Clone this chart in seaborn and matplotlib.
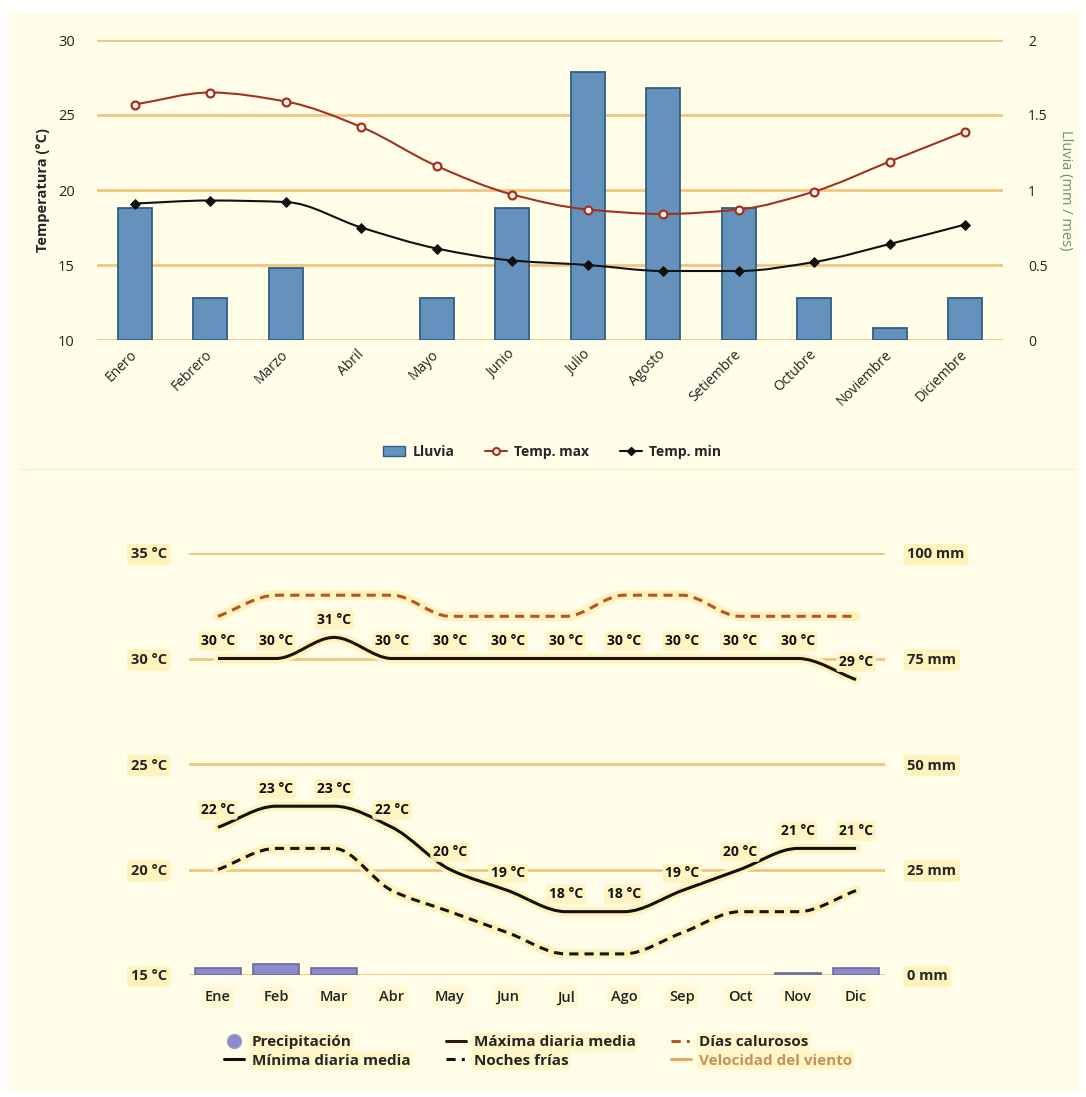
import numpy as np
import pandas as pd
import matplotlib
matplotlib.use("Agg")
import matplotlib.pyplot as plt
import seaborn as sns
from matplotlib.path import Path
from matplotlib.patches import PathPatch, Rectangle, Patch
from matplotlib.lines import Line2D

# ---------------- data ----------------
meses = ["Enero", "Febrero", "Marzo", "Abril", "Mayo", "Junio", "Julio",
         "Agosto", "Setiembre", "Octubre", "Noviembre", "Diciembre"]
lluvia = [0.88, 0.28, 0.48, 0.0, 0.28, 0.88, 1.79, 1.68, 0.88, 0.28, 0.08, 0.28]
temp_max = [25.7, 26.5, 25.9, 24.2, 21.6, 19.7, 18.7, 18.4, 18.7, 19.9, 21.9, 23.9]
temp_min = [19.1, 19.3, 19.2, 17.5, 16.1, 15.3, 15.0, 14.6, 14.6, 15.2, 16.4, 17.7]

meses_cortos = ["Ene", "Feb", "Mar", "Abr", "May", "Jun", "Jul",
                "Ago", "Sep", "Oct", "Nov", "Dic"]
maxima_media = [30, 30, 31, 30, 30, 30, 30, 30, 30, 30, 30, 29]
minima_media = [22, 23, 23, 22, 20, 19, 18, 18, 19, 20, 21, 21]
dias_calurosos = [32, 33, 33, 33, 32, 32, 32, 33, 33, 32, 32, 32]
noches_frias = [20, 21, 21, 19, 18, 17, 16, 16, 17, 18, 18, 19]
precipitacion = [1.7, 2.6, 1.7, 0, 0, 0, 0, 0, 0, 0, 0.5, 1.7]

temp_ticks_top = [10, 15, 20, 25, 30]
lluvia_ticks = [0, 0.5, 1, 1.5, 2]
lluvia_labels = ["0", "0.5", "1", "1.5", "2"]
temp_ticks_bot = [15, 20, 25, 30, 35]
mm_ticks = [0, 25, 50, 75, 100]

# ---------------- style ----------------
sns.set_style("white")
plt.rcParams["font.family"] = ["Open Sans", "DejaVu Sans"]

CREAM = "#fffde8"
GRID = "#f2c47e"
GLOW = "#fff3bd"
BAR = "#6592bd"
BAR_EDGE = "#2f5f82"
RED = "#a3311f"
GREEN = "#6a9078"
PURPLE = "#8a8ad2"

W, H = 1086, 1097


def fx(px):
    return px / W


def fy(py):
    return 1 - py / H


def monotone_path(x, y):
    x = np.asarray(x, float)
    y = np.asarray(y, float)
    n = len(x)
    d = np.diff(y) / np.diff(x)
    m = np.zeros(n)
    m[0], m[-1] = d[0], d[-1]
    for i in range(1, n - 1):
        if d[i - 1] * d[i] <= 0:
            m[i] = 0.0
        else:
            m[i] = 2.0 / (1.0 / d[i - 1] + 1.0 / d[i])
    verts = [(x[0], y[0])]
    codes = [Path.MOVETO]
    for i in range(n - 1):
        h = x[i + 1] - x[i]
        verts += [(x[i] + h / 3, y[i] + m[i] * h / 3),
                  (x[i + 1] - h / 3, y[i + 1] - m[i + 1] * h / 3),
                  (x[i + 1], y[i + 1])]
        codes += [Path.CURVE4] * 3
    return Path(verts, codes)


fig = plt.figure(figsize=(W / 100, H / 100), dpi=100)
fig.patch.set_facecolor("white")
fig.add_artist(Rectangle((fx(7), fy(1091)), (1080 - 7) / W, (1091 - 12) / H,
                         transform=fig.transFigure, facecolor=CREAM,
                         edgecolor="none", zorder=-10))

# ================= TOP CHART =================
ax_t = fig.add_axes([fx(97), fy(340), (1003 - 97) / W, 300 / H])
ax_r = ax_t.twinx()
ax_t.set_zorder(3)
ax_r.set_zorder(2)
for a in (ax_t, ax_r):
    a.patch.set_visible(False)
    for s in a.spines.values():
        s.set_visible(False)

df_top = pd.DataFrame({"mes": meses, "lluvia": lluvia,
                       "tmax": temp_max, "tmin": temp_min})
xpos = np.arange(len(meses))

sns.barplot(data=df_top, x="mes", y="lluvia", ax=ax_r, color=BAR,
            saturation=1, width=0.45, edgecolor=BAR_EDGE, linewidth=1.3)
for p in ax_r.patches:
    if p.get_height() == 0:
        p.set_visible(False)
ax_r.set_ylim(0, 2)
ax_r.set_yticks(lluvia_ticks)
ax_r.set_yticklabels(lluvia_labels)
ax_r.yaxis.grid(True, color=GRID, lw=2)
ax_r.set_axisbelow(True)
ax_r.tick_params(axis="y", length=0, pad=18, labelsize=10, labelcolor="#222222")
ax_r.set_ylabel("Lluvia (mm / mes)", rotation=270, color=GREEN,
                fontsize=10.5, labelpad=18)
ax_r.set_xlabel("")

ax_t.set_xlim(-0.5, 11.5)
ax_t.set_ylim(10, 30)
ax_t.set_yticks(temp_ticks_top)
ax_t.tick_params(axis="y", length=0, pad=16, labelsize=10.5, labelcolor="#222222")
ax_t.set_ylabel("Temperatura (°C)", fontweight="bold", fontsize=10.5, labelpad=6)

# smooth lines
ax_t.add_patch(PathPatch(monotone_path(xpos, temp_max), fill=False,
                         edgecolor=RED, lw=1.5, zorder=4))
ax_t.add_patch(PathPatch(monotone_path(xpos, temp_min), fill=False,
                         edgecolor="#111111", lw=1.5, zorder=4))
sns.scatterplot(x=xpos, y=temp_max, ax=ax_t, marker="o", s=32,
                facecolor="#fff6ee", edgecolor=RED, linewidth=1.6, zorder=6)
sns.scatterplot(x=xpos, y=temp_min, ax=ax_t, marker="D", s=24,
                color="#111111", edgecolor="#111111", linewidth=0.8, zorder=6)

ax_t.set_xticks(xpos)
ax_t.set_xticklabels(meses)
ax_t.set_xticks(np.arange(-0.5, 12, 1), minor=True)
ax_t.tick_params(axis="x", which="major", length=0, pad=9, labelsize=10,
                 labelcolor="#222222")
ax_t.tick_params(axis="x", which="minor", length=8, width=1.5, color=GRID,
                 direction="out")
for lbl in ax_t.get_xticklabels():
    lbl.set_rotation(45)
    lbl.set_ha("right")
    lbl.set_va("center")
    lbl.set_rotation_mode("anchor")
ax_t.set_xlabel("")

top_handles = [
    Patch(facecolor=BAR, edgecolor=BAR_EDGE, label="Lluvia"),
    Line2D([0], [0], color=RED, lw=1.5, marker="o", ms=5, mfc="#fff6ee",
           mec=RED, mew=1.5, label="Temp. max"),
    Line2D([0], [0], color="#111111", lw=1.5, marker="D", ms=4,
           label="Temp. min"),
]
ax_t.legend(handles=top_handles, ncol=3, loc="center",
            bbox_to_anchor=(fx(552), fy(452)), bbox_transform=fig.transFigure,
            frameon=False, prop={"weight": "bold", "size": 10},
            handlelength=1.6, handletextpad=0.5, columnspacing=2.2)

fig.add_artist(Line2D([fx(20), fx(1075)], [fy(469), fy(469)],
                      transform=fig.transFigure, color="#f5f0d6", lw=1))

# ================= BOTTOM CHART =================
ax_b = fig.add_axes([fx(189), fy(975), 696 / W, 422 / H])
ax_p = ax_b.twinx()
ax_b.set_zorder(3)
ax_p.set_zorder(2)
for a in (ax_b, ax_p):
    a.patch.set_visible(False)
    for s in a.spines.values():
        s.set_visible(False)

df_bot = pd.DataFrame({"mes": meses_cortos, "precipitacion": precipitacion})
sns.barplot(data=df_bot, x="mes", y="precipitacion", ax=ax_p, color=PURPLE,
            saturation=1, width=0.8, edgecolor="#6c6c92", linewidth=1.2)
for p in ax_p.patches:
    if p.get_height() == 0:
        p.set_visible(False)
ax_p.set_ylim(0, 100)
ax_p.set_yticks(mm_ticks)
ax_p.set_yticklabels([f"{v} mm" for v in mm_ticks])
ax_p.yaxis.grid(True, color=GRID, lw=2)
ax_p.set_axisbelow(True)
ax_p.tick_params(axis="y", length=0, pad=16, labelsize=10.5)
ax_p.set_ylabel("")
ax_p.set_xlabel("")

ax_b.set_xlim(-0.5, 11.5)
ax_b.set_ylim(15, 35)
ax_b.set_yticks(temp_ticks_bot)
ax_b.set_yticklabels([f"{v} °C" for v in temp_ticks_bot])
ax_b.tick_params(axis="y", length=0, pad=16, labelsize=10.5)
xb = np.arange(len(meses_cortos))
ax_b.set_xticks(xb)
ax_b.set_xticklabels(meses_cortos)
ax_b.tick_params(axis="x", length=0, pad=11, labelsize=10.5)
ax_b.set_xlabel("")

for t in ax_b.get_yticklabels() + ax_p.get_yticklabels():
    t.set_fontweight("bold")
    t.set_bbox(dict(boxstyle="round,pad=0.25", fc=GLOW, ec="none"))
for t in ax_b.get_xticklabels():
    t.set_fontweight(600)
    t.set_color("#222222")
    t.set_bbox(dict(boxstyle="round,pad=0.25", fc="#fff8d2", ec="none"))

series = [
    (dias_calurosos, "#b4552a", (0, (3, 2))),
    (maxima_media, "#1f1408", "solid"),
    (noches_frias, "#151515", (0, (3, 2))),
    (minima_media, "#111111", "solid"),
]
for vals, col, ls in series:
    path = monotone_path(xb, vals)
    ax_b.add_patch(PathPatch(path, fill=False, edgecolor=GLOW, lw=7,
                             capstyle="round", zorder=3))
    ax_b.add_patch(PathPatch(path, fill=False, edgecolor=col, lw=2.2,
                             linestyle=ls, zorder=4))

for vals in (maxima_media, minima_media):
    for i, v in enumerate(vals):
        ax_b.annotate(f"{v} °C", (i, v), xytext=(0, 12.5),
                      textcoords="offset points", ha="center", va="center",
                      fontsize=10, fontweight="bold", color="#111111", zorder=6,
                      bbox=dict(boxstyle="round,pad=0.2", fc=GLOW, ec="none",
                                alpha=0.9))

bot_handles = [
    Line2D([], [], ls="", marker="o", ms=10, mfc=PURPLE, mec="#a0a0b0",
           mew=1, label="Precipitación"),
    Line2D([], [], color="#111111", lw=2.2, label="Mínima diaria media"),
    Line2D([], [], color="#2a1a0a", lw=2.2, label="Máxima diaria media"),
    Line2D([], [], color="#151515", lw=2.2, ls=(0, (3, 2, 1, 2)),
           label="Noches frías"),
    Line2D([], [], color="#b4552a", lw=2.2, ls=(0, (3, 2, 1, 2)),
           label="Días calurosos"),
    Line2D([], [], color="#e6a862", lw=2.2, label="Velocidad del viento"),
]
leg = ax_b.legend(handles=bot_handles, ncol=3, loc="upper left",
                  bbox_to_anchor=(fx(224), fy(1035)),
                  bbox_transform=fig.transFigure, frameon=False,
                  prop={"weight": "bold", "size": 11}, handlelength=1.3,
                  handletextpad=0.5, columnspacing=2.35, labelspacing=0.3,
                  borderpad=0, borderaxespad=0)
for t in leg.get_texts():
    t.set_bbox(dict(boxstyle="round,pad=0.15", fc="#fff6c8", ec="none"))
leg.get_texts()[5].set_color("#c49062")

fig.savefig("out.png", dpi=100, facecolor=fig.get_facecolor())
